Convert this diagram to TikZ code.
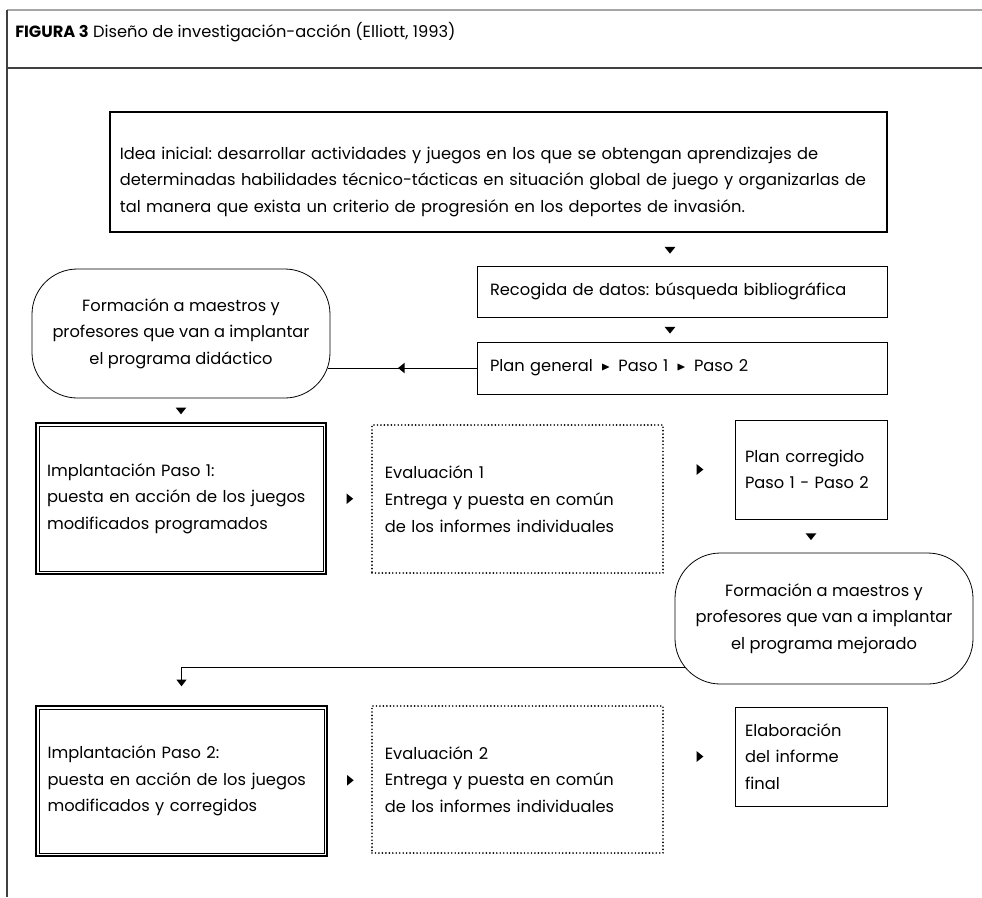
\documentclass[tikz,border=0pt]{standalone}
\usepackage{amssymb}
\usepackage{fontspec}
\setmainfont{Poppins}
\frenchspacing
\usetikzlibrary{shapes.geometric,arrows.meta,positioning}

\begin{document}
\begin{tikzpicture}[x=0.75pt, y=-0.75pt,
    texto/.style={font=\fontsize{12.2}{20}\selectfont},
    caja/.style={texto, draw, line width=0.6pt, align=left, inner sep=0pt},
    cajaidea/.style={caja, line width=2.2pt},
    cajadoble/.style={caja, line width=1.6pt},
    cajapuntos/.style={caja, line width=1.4pt, dash pattern=on 0pt off 2.6pt, line cap=round},
    nube/.style={texto, draw, line width=0.6pt, rounded corners=34pt, align=center, inner sep=0pt},
    bajar/.style={execute at begin node={\rule{0pt}{#1}}},
    punta/.style={isosceles triangle, isosceles triangle stretches, fill, draw=none, inner sep=0pt, minimum width=8pt, minimum height=5pt},
    abajo/.style={punta, rotate=-90},
    izquierda/.style={punta, rotate=180},
    derecha/.style={punta},
    linea/.style={line width=0.6pt}]
    \useasboundingbox (0,0) rectangle (982,897);

    % marco y titulo
    \draw[gray!70, line width=1.2pt] (7,10) -- (982,10);
    \draw[black!75, line width=1.2pt] (7,68) -- (982,68);
    \draw[black!75, line width=1pt] (7,10) -- (7,897);
    \node[texto, anchor=base west, inner sep=0pt] (titulo) at (15,37) {\textbf{FIGURA 3} Diseño de investigación-acción (Elliott, 1993)};

    % cajas
    \node[cajaidea, bajar=24pt, minimum width=582.75pt, minimum height=90pt, text width=568pt] (idea) at (498.5,172)
        {Idea inicial: desarrollar actividades y juegos en los que se obtengan aprendizajes de\\
         determinadas habilidades técnico-tácticas en situación global de juego y organizarlas de\\
         tal manera que exista un criterio de progresión en los deportes de invasión.};
    \node[caja, minimum width=307.5pt, minimum height=38.25pt, text width=288pt] (rec) at (682,291.5)
        {Recogida de datos: búsqueda bibliográfica};
    \node[caja, minimum width=307.5pt, minimum height=39pt, text width=288pt] (plan) at (682,368)
        {Plan general\enspace\raisebox{1pt}{\small$\blacktriangleright$}\enspace Paso 1\enspace\raisebox{1pt}{\small$\blacktriangleright$}\enspace Paso 2};
    \node[nube, minimum width=223.5pt, minimum height=96.75pt] (form1) at (181,333.5)
        {Formación a maestros y\\ profesores que van a implantar\\ el programa didáctico};

    \node[cajadoble, minimum width=217.5pt, minimum height=113.25pt, text width=201pt] (imp1) at (181,498.5)
        {Implantación Paso 1:\\ puesta en acción de los juegos\\ modificados programados};
    \draw[linea] ([shift={(3pt,-3pt)}]imp1.north west) rectangle ([shift={(-3pt,3pt)}]imp1.south east);
    \node[cajapuntos, minimum width=218.25pt, minimum height=111pt, text width=199pt] (ev1) at (517.5,499)
        {Evaluación 1\\ Entrega y puesta en común\\ de los informes individuales};
    \node[caja, minimum width=114pt, minimum height=74.25pt, text width=99pt] (pc) at (811,469.5)
        {Plan corregido\\ Paso 1 - Paso 2};
    \node[nube, minimum width=223.5pt, minimum height=98.25pt] (form2) at (824,618.5)
        {Formación a maestros y\\ profesores que van a implantar\\ el programa mejorado};

    \node[cajadoble, minimum width=218.25pt, minimum height=112.5pt, text width=201pt] (imp2) at (181.5,781)
        {Implantación Paso 2:\\ puesta en acción de los juegos\\ modificados y corregidos};
    \draw[linea] ([shift={(3pt,-3pt)}]imp2.north west) rectangle ([shift={(-3pt,3pt)}]imp2.south east);
    \node[cajapuntos, minimum width=218.25pt, minimum height=110.25pt, text width=199pt] (ev2) at (517.5,779.5)
        {Evaluación 2\\ Entrega y puesta en común\\ de los informes individuales};
    \node[caja, minimum width=114pt, minimum height=74.25pt, text width=99pt] (elab) at (811,756.5)
        {Elaboración\\ del informe\\ final};

    % flechas
    \path ([xshift=-9pt]idea.south -| rec.north) -- ([xshift=-9pt]rec.north) node[midway, abajo] (f1) {};
    \path ([xshift=-9pt]rec.south) -- ([xshift=-9pt]plan.north) node[midway, abajo] (f2) {};
    \draw[linea] (plan.west) -- ([xshift=-2pt]plan.west -| form1.east) node[midway, izquierda] (f3) {};
    \path (form1.south) -- (imp1.north) node[midway, abajo] (f4) {};
    \path (imp1.east) -- (ev1.west) node[midway, derecha] (f5) {};
    \path (ev1.east |- pc.west) -- (pc.west) node[midway, derecha] (f6) {};
    \path (pc.south) -- (form2.north -| pc.south) node[midway, abajo] (f7) {};
    \draw[linea, -{Triangle[width=7.5pt,length=5pt]}] ([shift={(7.5pt,-36.4pt)}]form2.west) -| ([yshift=14pt]imp2.north);
    \path (imp2.east) -- (ev2.west) node[midway, derecha] (f8) {};
    \path (ev2.east |- elab.west) -- (elab.west) node[midway, derecha] (f9) {};
\end{tikzpicture}
\end{document}
